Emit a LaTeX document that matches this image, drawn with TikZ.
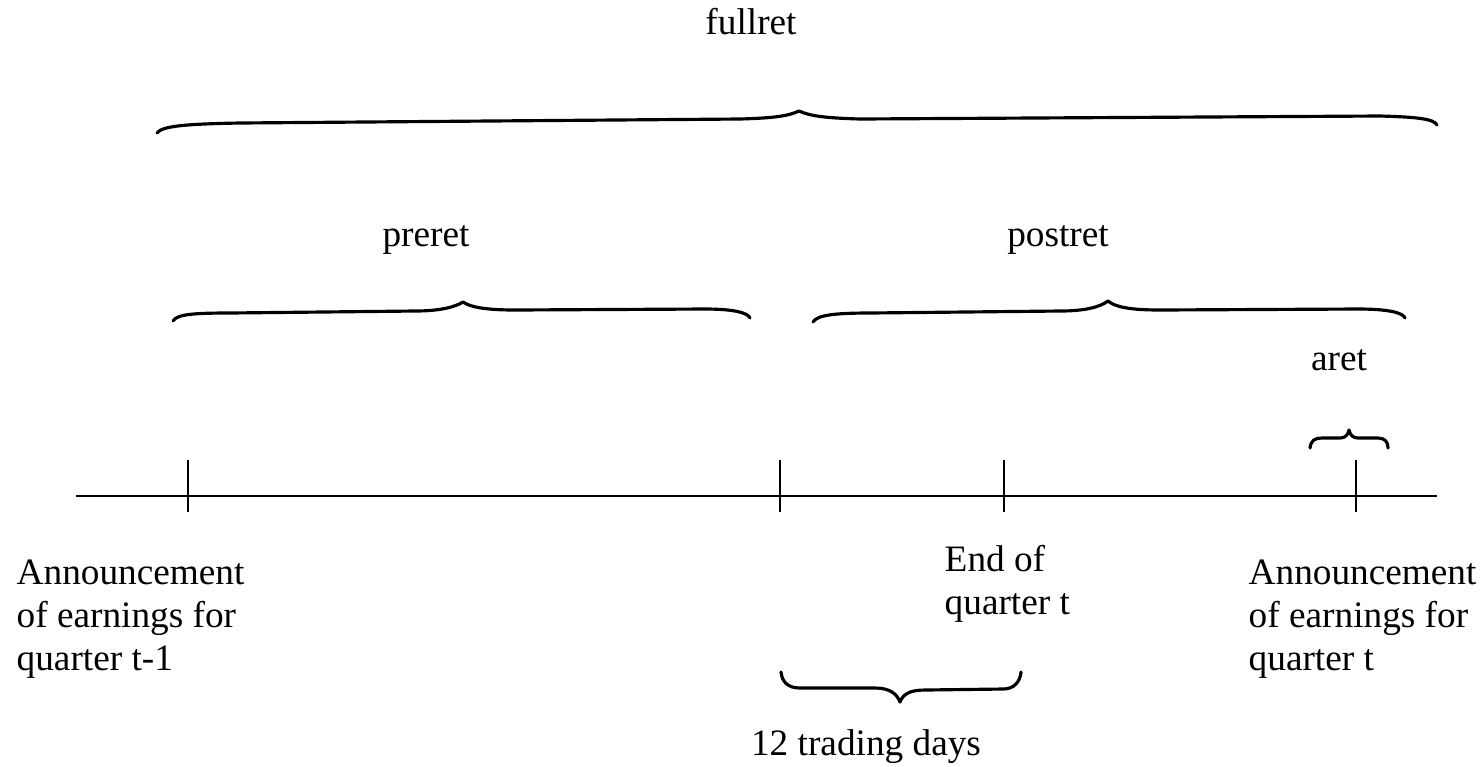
\documentclass[tikz,border=0pt]{standalone}
\usepackage{fontspec}
\setmainfont{Liberation Serif}
\begin{document}
\begin{tikzpicture}[x=0.01cm,y=-0.01cm,
  lbl/.style={inner sep=0pt,font=\fontsize{10.6}{12.2}\selectfont},
  brc/.style={line width=0.9pt,line cap=round,line join=round},
  axis/.style={line width=0.6pt},
  tick/.style={line width=0.6pt}]
\useasboundingbox (0,0) rectangle (1483,766);
% timeline
\coordinate (L) at (76,496);
\coordinate (R) at (1437,496);
\draw[axis] (L) -- (R);
\foreach \n/\x in {a/188,b/780,c/1004,d/1356}{
  \coordinate (t\n top) at (\x,460);
  \coordinate (t\n bot) at (\x,512);
  \draw[tick] (t\n top) -- (t\n bot);
}
% full brace
\draw[brc] (157,133) .. controls (162,126) and (185,124) .. (240,123)
  -- (740,119) .. controls (775,118) and (788,116) .. (799,111)
  .. controls (810,116) and (825,118) .. (860,119)
  -- (1380,116) .. controls (1418,117) and (1434,119) .. (1437,125);
% preret brace
\draw[brc] (173,321) .. controls (177,314) and (195,313) .. (230,313)
  -- (415,311) .. controls (440,311) and (455,307) .. (463,302)
  .. controls (470,307) and (485,310) .. (515,310)
  -- (705,309) .. controls (735,309) and (748,313) .. (750,318);
% postret brace
\draw[brc] (813,322) .. controls (817,315) and (835,313) .. (870,313)
  -- (1060,311) .. controls (1085,311) and (1100,307) .. (1108,301)
  .. controls (1115,307) and (1130,310) .. (1160,310)
  -- (1358,309) .. controls (1390,309) and (1403,313) .. (1405,318);
% aret brace
\draw[brc] (1310,448) .. controls (1311,440) and (1315,438) .. (1322,438)
  -- (1340,438) .. controls (1345,438) and (1348,435) .. (1349,430)
  .. controls (1350,435) and (1353,438) .. (1358,438)
  -- (1378,438) .. controls (1385,438) and (1388,442) .. (1388,448);
% 12 trading days brace
\draw[brc] (781,672) .. controls (782,682) and (788,688) .. (800,688)
  -- (875,688) .. controls (890,688) and (897,694) .. (900,702)
  .. controls (903,694) and (910,690) .. (925,690)
  -- (1003,689) .. controls (1014,689) and (1020,682) .. (1021,672);
% labels
\node[lbl,anchor=base] (full) at (751,34) {fullret};
\node[lbl,anchor=base] (pre) at (426,246) {preret};
\node[lbl,anchor=base] (post) at (1058,246) {postret};
\node[lbl,anchor=base] (aret) at (1339,370) {aret};
\node[lbl,anchor=base] (days) at (866,755) {12 trading days};
\node[lbl,anchor=base west,align=left] (ann1) at (16,670) {Announcement\\of earnings for\\quarter t-1};
\node[lbl,anchor=base west,align=left] (endq) at (944,614) {End of\\quarter t};
\node[lbl,anchor=base west,align=left] (ann2) at (1248,670) {Announcement\\of earnings for\\quarter t};
\end{tikzpicture}
\end{document}
